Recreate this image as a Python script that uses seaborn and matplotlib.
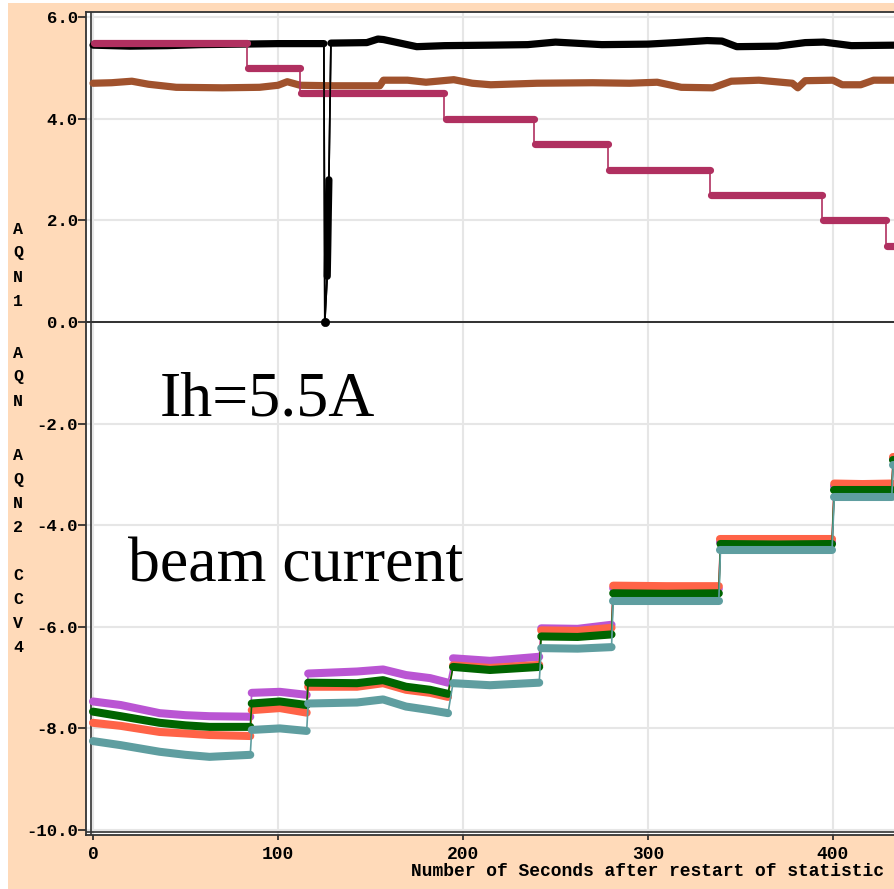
import numpy as np
import pandas as pd
import matplotlib
matplotlib.use("Agg")
import matplotlib.pyplot as plt
import seaborn as sns
from matplotlib.patches import Rectangle

# ---------------- data ----------------
x_ticks = [0, 100, 200, 300, 400]
x_tick_labels = ["0", "100", "200", "300", "400"]
y_ticks = [6, 4, 2, 0, -2, -4, -6, -8, -10]
y_tick_labels = ["6.0", "4.0", "2.0", "0.0", "-2.0", "-4.0", "-6.0", "-8.0", "-10.0"]

# AQN1 (black) – with the short drop to zero near t=125
black_t = [0, 20, 40, 58, 80, 100, 124.8, 125.3, 126.6, 126.9, 127.2, 127.5, 128.6,
           148, 154, 157, 175, 190, 215, 235, 250, 275, 300, 315, 332, 340, 348,
           370, 385, 395, 410, 435]
black_v = [5.45, 5.43, 5.44, 5.46, 5.47, 5.48, 5.48, 0.0, 0.9, 1.5, 2.2, 2.8, 5.49,
           5.50, 5.57, 5.56, 5.42, 5.44, 5.45, 5.46, 5.51, 5.46, 5.47, 5.50, 5.54,
           5.53, 5.42, 5.43, 5.50, 5.51, 5.44, 5.45]
black_seg = ["a"] * 7 + ["z", "s", "s", "s", "s"] + ["b"] * 20

# AQN (brown)
brown_t = [0, 10, 21, 30, 45, 70, 90, 100, 105, 112, 130, 155, 157, 170, 180, 195,
           205, 215, 240, 270, 290, 305, 318, 335, 345, 360, 378, 381, 385, 400,
           405, 415, 422, 435]
brown_v = [4.70, 4.71, 4.74, 4.68, 4.62, 4.61, 4.62, 4.66, 4.73, 4.66, 4.65, 4.65,
           4.76, 4.76, 4.72, 4.77, 4.70, 4.67, 4.70, 4.71, 4.70, 4.72, 4.62, 4.61,
           4.74, 4.76, 4.70, 4.61, 4.75, 4.76, 4.67, 4.67, 4.76, 4.76]

# AQN2 (maroon) – set-point steps
step_start = [0, 83, 112, 190, 238.5, 278.5, 333.5, 394, 428.5]
step_end = [83, 112, 190, 238.5, 278.5, 333.5, 394, 428.5, 440]
step_level = [5.5, 5.0, 4.5, 4.0, 3.5, 3.0, 2.5, 2.0, 1.5]

# CCV4 beam-current channels (shared time grid, one segment per step)
beam_t = [0, 15, 36, 50, 63, 85,
          85.8, 101, 115.5,
          116.3, 142.7, 156.8, 169.2, 182.2, 191.9,
          194.6, 214.6, 241.2,
          242.3, 262, 280.3,
          281.2, 310, 338.3,
          339.2, 370, 399.5,
          400.7, 416, 431.8,
          432.6, 440]
beam_seg = [1] * 6 + [2] * 3 + [3] * 6 + [4] * 3 + [5] * 3 + [6] * 3 + [7] * 3 + [8] * 3 + [9] * 2
purple_v = [-7.47, -7.54, -7.70, -7.74, -7.76, -7.77,
            -7.30, -7.28, -7.34,
            -6.92, -6.88, -6.84, -6.95, -7.01, -7.10,
            -6.62, -6.67, -6.59,
            -6.03, -6.04, -5.96,
            -5.24, -5.25, -5.25,
            -4.33, -4.33, -4.33,
            -3.23, -3.23, -3.23,
            -2.70, -2.70]
tomato_v = [-7.89, -7.95, -8.07, -8.10, -8.13, -8.15,
            -7.64, -7.60, -7.69,
            -7.18, -7.18, -7.11, -7.24, -7.30, -7.38,
            -6.76, -6.81, -6.75,
            -6.07, -6.08, -6.02,
            -5.19, -5.20, -5.20,
            -4.28, -4.28, -4.28,
            -3.18, -3.19, -3.18,
            -2.65, -2.65]
green_v = [-7.67, -7.76, -7.89, -7.94, -7.97, -7.97,
           -7.51, -7.47, -7.54,
           -7.10, -7.11, -7.05, -7.18, -7.24, -7.32,
           -6.79, -6.85, -6.79,
           -6.19, -6.20, -6.15,
           -5.34, -5.35, -5.34,
           -4.37, -4.38, -4.37,
           -3.31, -3.31, -3.31,
           -2.72, -2.72]
teal_v = [-8.25, -8.33, -8.46, -8.52, -8.56, -8.52,
          -8.03, -8.00, -8.05,
          -7.51, -7.49, -7.43, -7.57, -7.64, -7.70,
          -7.11, -7.15, -7.10,
          -6.42, -6.43, -6.40,
          -5.49, -5.49, -5.49,
          -4.49, -4.49, -4.49,
          -3.44, -3.44, -3.44,
          -2.81, -2.81]

spike_point_t = [125.3]
spike_point_v = [0.0]

# ---------------- style ----------------
sns.set_style("white")
plt.rcParams["font.family"] = ["Liberation Mono", "DejaVu Sans Mono"]
plt.rcParams["axes.unicode_minus"] = False
plt.rcParams["lines.solid_capstyle"] = "round"
plt.rcParams["lines.solid_joinstyle"] = "round"
plt.rcParams["text.color"] = "black"
plt.rcParams["xtick.color"] = "black"
plt.rcParams["ytick.color"] = "black"

PEACH = "#FFDAB9"
C_BLACK = "#000000"
C_BROWN = "#A0522D"
C_MAROON = "#B03060"
C_PURPLE = "#BA55D3"
C_TOMATO = "#FF6347"
C_GREEN = "#006400"
C_TEAL = "#5F9EA0"

W, H = 894, 889
fig = plt.figure(figsize=(W / 100, H / 100), dpi=100, facecolor="white")
fig.add_artist(Rectangle((8 / W, 0), 1, 1 - 3 / H, transform=fig.transFigure,
                         facecolor=PEACH, edgecolor="none", zorder=-10))

ax_left, ax_top, ax_bottom = 86, 12, 834.5
ax = fig.add_axes([ax_left / W, 1 - ax_bottom / H, 1 - ax_left / W,
                   (ax_bottom - ax_top) / H])
ax.set_facecolor("white")


def band(t, v, seg, color, lw=5.2, z=2):
    df = pd.DataFrame({"t": t, "v": v, "seg": seg})
    sns.lineplot(data=df, x="t", y="v", units="seg", estimator=None, sort=False,
                 color=color, lw=lw, ax=ax, legend=False, zorder=z)


def thin(t, v, color, lw=1.2, z=2):
    df = pd.DataFrame({"t": t, "v": v})
    sns.lineplot(data=df, x="t", y="v", estimator=None, sort=False,
                 color=color, lw=lw, ax=ax, legend=False, zorder=z)


# beam channels
for vals, col, z in [(purple_v, C_PURPLE, 2.0), (tomato_v, C_TOMATO, 2.1),
                     (green_v, C_GREEN, 2.2), (teal_v, C_TEAL, 2.3)]:
    thin(beam_t, vals, col, z=z)
    band(beam_t, vals, beam_seg, col, lw=5.8, z=z)

# black
thin(black_t, black_v, C_BLACK, z=2.0)
bt = [t for t, s in zip(black_t, black_seg) if s != "z"]
bv = [v for v, s in zip(black_v, black_seg) if s != "z"]
bs = [s for s in black_seg if s != "z"]
band(bt, bv, bs, C_BLACK, lw=5.2, z=2.0)

# brown
band(brown_t, brown_v, ["b"] * len(brown_t), C_BROWN, lw=5.2, z=2.1)

# maroon steps
mt, mv, ms = [], [], []
for i, (a, b, lv) in enumerate(zip(step_start, step_end, step_level)):
    mt += [a, b]
    mv += [lv, lv]
    ms += [i, i]
thin(mt, mv, C_MAROON, z=2.2)
band([t + 0.6 if k % 2 == 0 else t for k, t in enumerate(mt)], mv, ms, C_MAROON, lw=5.2, z=2.2)

# black spike thin line drawn on top
thin(black_t[5:14], black_v[5:14], C_BLACK, lw=1.2, z=2.5)
sns.scatterplot(x=spike_point_t, y=spike_point_v, color=C_BLACK, s=36,
                edgecolor=C_BLACK, ax=ax, legend=False, zorder=3)

# ---------------- axes ----------------
ax.axhline(0, color="#111111", lw=1.2, zorder=1.5)
ax.axvline(-1.1, color="#333333", lw=1.2, zorder=1.5)
ax.axhline(-10.03, color="#333333", lw=1.2, zorder=1.5)

ax.set_xlim(-3.8, 433)
ax.set_ylim((322 - ax_bottom) / 50.8, (322 - ax_top) / 50.8)
ax.set_xticks(x_ticks)
ax.set_xticklabels(x_tick_labels, fontsize=13, fontweight="bold", color="black")
ax.set_yticks(y_ticks)
ax.set_yticklabels(y_tick_labels, fontsize=12.5, fontweight="bold", color="black")
ax.tick_params(axis="y", left=True, length=5.5, width=1.2, pad=0.5, color="#222222")
ax.tick_params(axis="x", bottom=True, length=3.5, width=1.2, pad=5, color="#222222")
ax.set_xlabel("")
ax.set_ylabel("")
ax.grid(True, color="#e6e6e6", lw=1.5)
ax.set_axisbelow(True)
for side in ["left", "top", "bottom"]:
    ax.spines[side].set_color("#333333")
    ax.spines[side].set_linewidth(1.3)
ax.spines["right"].set_visible(False)

# axis texts
fig.text(884 / W, 1 - 876 / H, "Number of Seconds after restart of statistic",
         ha="right", va="baseline", fontsize=13, fontweight="bold", color="black")
for label, yc in [("A\nQ\nN\n1", 265), ("A\nQ\nN", 377), ("A\nQ\nN\n2", 492), ("C\nC\nV\n4", 611)]:
    fig.text(18 / W, 1 - yc / H, label, ha="center", va="center", fontsize=12,
             fontweight="bold", linespacing=1.75, color="black")

serif = ["Liberation Serif", "DejaVu Serif"]
fig.text(160 / W, 1 - 415 / H, "Ih=5.5A", ha="left", va="baseline", fontsize=46,
         family=serif, color="black")
fig.text(128 / W, 1 - 582 / H, "beam current", ha="left", va="baseline", fontsize=46,
         family=serif, color="black")

fig.savefig("out.png", dpi=100, facecolor=fig.get_facecolor())
